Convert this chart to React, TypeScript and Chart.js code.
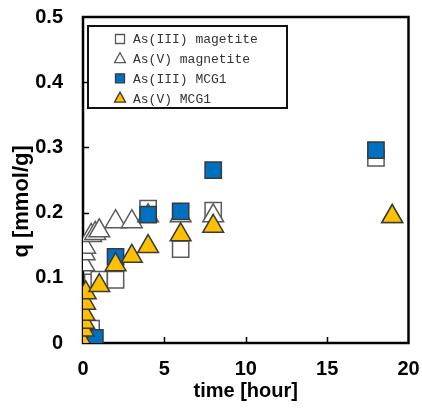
import React, { useEffect, useRef } from 'react';
import { Chart, registerables } from 'chart.js';

Chart.register(...registerables);

const seriesNames = ['As(III) magetite', 'As(V) magnetite', 'As(III) MCG1', 'As(V) MCG1'];

const as3MagTime = [0, 0.5, 0.6, 1, 2, 4, 6, 8, 18];
const as3MagQ = [0, 0.022, 0.093, 0.097, 0.097, 0.206, 0.144, 0.203, 0.284];

const as5MagTime = [0.08, 0.1, 0.13, 0.5, 0.75, 1, 2, 3, 4, 6, 8, 19];
const as5MagQ = [0.12, 0.137, 0.147, 0.165, 0.168, 0.172, 0.186, 0.186, 0.195, 0.195, 0.195, 0.194];

const as3McgTime = [0, 0.73, 2, 4, 6, 8, 18];
const as3McgQ = [0, 0.008, 0.132, 0.197, 0.202, 0.265, 0.296];

const as5McgTime = [0, 0.03, 0.06, 0.1, 0.13, 0.17, 1, 2, 3, 4, 6, 8, 19];
const as5McgQ = [0, 0.02, 0.032, 0.044, 0.061, 0.077, 0.088, 0.12, 0.133, 0.148, 0.166, 0.179, 0.194];

const xTicks = [0, 5, 10, 15, 20];
const yTicks = [0, 0.1, 0.2, 0.3, 0.4, 0.5];

const BLUE = '#0070C0';
const YELLOW = '#FFC000';
const DARK = '#3a3a3a';
const GRAY = '#5a5a5a';

const toPts = (t: number[], q: number[]) => t.map((x, i) => ({ x, y: q[i] }));

const markerStyles = [
  { shape: 'rect', fill: '#ffffff', stroke: GRAY },
  { shape: 'triangle', fill: '#ffffff', stroke: GRAY },
  { shape: 'rect', fill: BLUE, stroke: DARK },
  { shape: 'triangle', fill: YELLOW, stroke: DARK },
];

const framePlugin = {
  id: 'frame',
  beforeDatasetsDraw(chart: any) {
    const { ctx, chartArea: a, scales } = chart;
    ctx.save();
    ctx.strokeStyle = '#000';
    ctx.lineWidth = 1.5;
    ctx.beginPath();
    yTicks.slice(1, -1).forEach((v) => {
      const y = Math.round(scales.y.getPixelForValue(v)) + 0.5;
      ctx.moveTo(a.left, y);
      ctx.lineTo(a.left + 6, y);
    });
    xTicks.slice(1, -1).forEach((v) => {
      const x = Math.round(scales.x.getPixelForValue(v)) + 0.5;
      ctx.moveTo(x, a.bottom);
      ctx.lineTo(x, a.bottom - 6);
    });
    ctx.stroke();
    ctx.lineWidth = 2.5;
    ctx.strokeRect(a.left, a.top, a.right - a.left, a.bottom - a.top);
    ctx.restore();
  },
};

const legendPlugin = {
  id: 'boxLegend',
  afterDatasetsDraw(chart: any) {
    const { ctx, chartArea: a } = chart;
    const bx = a.left + 5;
    const by = a.top + 9;
    const bw = 199;
    const bh = 82;
    ctx.save();
    ctx.fillStyle = '#fff';
    ctx.fillRect(bx, by, bw, bh);
    ctx.strokeStyle = '#111';
    ctx.lineWidth = 2;
    ctx.strokeRect(bx, by, bw, bh);
    ctx.font = '13px "Liberation Mono", monospace';
    ctx.textBaseline = 'middle';
    ctx.textAlign = 'left';
    seriesNames.forEach((name, i) => {
      const cy = by + 13 + i * 19.7;
      const cx = bx + 32;
      const m = markerStyles[i];
      ctx.fillStyle = m.fill;
      ctx.strokeStyle = m.stroke;
      ctx.lineWidth = 1.3;
      ctx.beginPath();
      if (m.shape === 'rect') {
        ctx.rect(cx - 4.5, cy - 4.5, 9, 9);
      } else {
        ctx.moveTo(cx, cy - 6);
        ctx.lineTo(cx + 5.5, cy + 4);
        ctx.lineTo(cx - 5.5, cy + 4);
        ctx.closePath();
      }
      ctx.fill();
      ctx.stroke();
      ctx.fillStyle = '#333';
      ctx.fillText(name, bx + 45, cy + 1);
    });
    ctx.restore();
  },
};

export default function App() {
  const ref = useRef<HTMLCanvasElement>(null);
  useEffect(() => {
    document.body.style.margin = '0';
    const canvas = ref.current;
    if (!canvas) return;
    const mk = (i: number, t: number[], q: number[], order: number) => {
      const m = markerStyles[i];
      return {
        label: seriesNames[i],
        data: toPts(t, q),
        pointStyle: m.shape,
        pointRadius: m.shape === 'rect' ? 11.5 : 12,
        backgroundColor: m.fill,
        borderColor: m.stroke,
        pointBorderWidth: 1.5,
        showLine: false,
        order,
      };
    };
    const chart = new Chart(canvas, {
      type: 'scatter',
      data: {
        datasets: [
          mk(0, as3MagTime, as3MagQ, 3),
          mk(1, as5MagTime, as5MagQ, 2),
          mk(2, as3McgTime, as3McgQ, 1),
          mk(3, as5McgTime, as5McgQ, 0),
        ] as any,
      },
      options: {
        responsive: false,
        animation: false,
        events: [],
        layout: { padding: { top: 17, right: 12, left: 0, bottom: 0 } },
        plugins: { legend: { display: false }, tooltip: { enabled: false } },
        scales: {
          x: {
            type: 'linear',
            min: 0,
            max: 20,
            afterBuildTicks: (s: any) => {
              s.ticks = xTicks.map((v) => ({ value: v }));
            },
            afterFit: (s: any) => {
              s.height = 69;
              s.paddingLeft = 0;
              s.paddingRight = 0;
            },
            ticks: {
              font: { family: '"Liberation Sans", Arial, sans-serif', size: 20, weight: 'bold' },
              color: '#000',
              padding: 14,
              maxRotation: 0,
              callback: (v: any) => String(v),
            },
            grid: { display: false, drawTicks: false },
            border: { display: false },
            title: {
              display: true,
              text: 'time [hour]',
              color: '#000',
              font: { family: '"Liberation Sans", Arial, sans-serif', size: 20, weight: 'bold' },
              padding: { top: 0, bottom: 9 },
            },
          },
          y: {
            type: 'linear',
            min: 0,
            max: 0.5,
            afterBuildTicks: (s: any) => {
              s.ticks = yTicks.map((v) => ({ value: v }));
            },
            afterFit: (s: any) => {
              s.width = 83;
              s.paddingTop = 0;
              s.paddingBottom = 0;
            },
            ticks: {
              font: { family: '"Liberation Sans", Arial, sans-serif', size: 20, weight: 'bold' },
              color: '#000',
              padding: 20,
              callback: (v: any) => (v === 0 ? '0' : Number(v).toFixed(1)),
            },
            grid: { display: false, drawTicks: false },
            border: { display: false },
            title: {
              display: true,
              text: 'q [mmol/g]       ',
              color: '#000',
              font: { family: '"Liberation Sans", Arial, sans-serif', size: 22, weight: 'bold' },
              padding: { top: 9, bottom: 0 },
            },
          },
        },
      },
      plugins: [framePlugin, legendPlugin],
    } as any);
    return () => chart.destroy();
  }, []);
  return (
    <div style={{ width: 422, height: 412, background: '#fff' }}>
      <canvas ref={ref} width={422} height={412} />
    </div>
  );
}
